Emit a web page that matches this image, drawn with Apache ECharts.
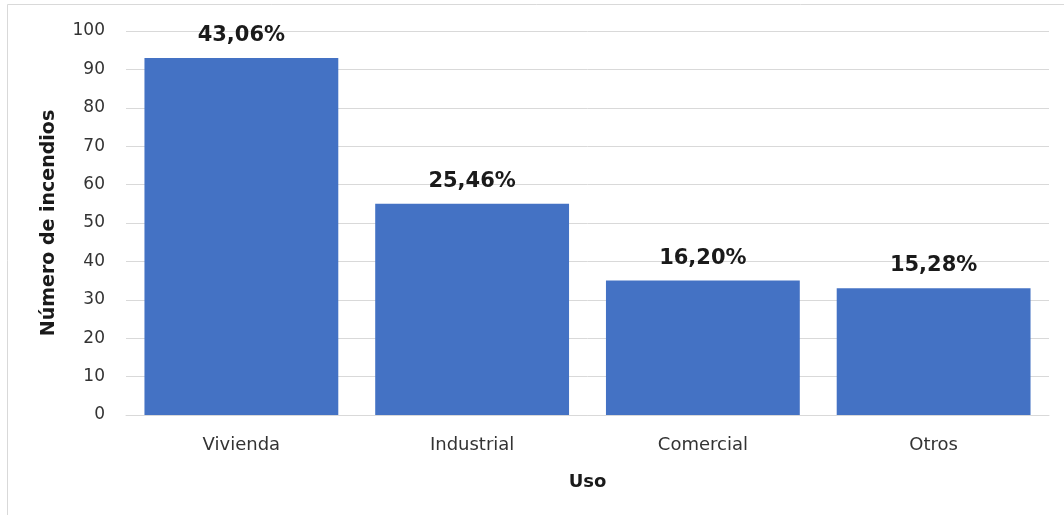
<!DOCTYPE html>
<html><head><meta charset="utf-8">
<script src="https://cdn.jsdelivr.net/npm/echarts@6/dist/echarts.min.js"></script>
<style>html,body{margin:0;padding:0;background:#fff}#c{width:1064px;height:515px}</style>
</head><body><div id="c"></div>
<script>
const categories = ['Vivienda', 'Industrial', 'Comercial', 'Otros'];
const counts = [93, 55, 35, 33];
const percentLabels = ['43,06%', '25,46%', '16,20%', '15,28%'];
const yTicks = [0, 10, 20, 30, 40, 50, 60, 70, 80, 90, 100];

const chart = echarts.init(document.getElementById('c'), null, {renderer: 'canvas'});
const FONT = 'DejaVu Sans';
chart.setOption({
  animation: false,
  backgroundColor: '#fff',
  graphic: [{
    type: 'rect', silent: true,
    shape: {x: 7.5, y: 4.5, width: 1200, height: 700},
    style: {fill: 'none', stroke: '#d9d9d9', lineWidth: 1}
  }],
  grid: {left: 126, right: 15, top: 31, bottom: 100, containLabel: false},
  xAxis: {
    type: 'category', data: categories,
    name: 'Uso', nameLocation: 'middle', nameGap: 58,
    nameTextStyle: {fontFamily: FONT, fontWeight: 'bold', fontSize: 18, color: '#1a1a1a'},
    axisLine: {lineStyle: {color: '#d9d9d9', width: 1}},
    axisTick: {show: false},
    axisLabel: {fontFamily: FONT, fontSize: 18, color: '#333', margin: 21}
  },
  yAxis: {
    type: 'value', min: yTicks[0], max: yTicks[yTicks.length - 1], interval: 10,
    name: 'Número de incendios', nameLocation: 'middle', nameGap: 67, nameRotate: 90,
    nameTextStyle: {fontFamily: FONT, fontWeight: 'bold', fontSize: 19, color: '#1a1a1a'},
    axisLine: {show: false}, axisTick: {show: false},
    axisLabel: {fontFamily: FONT, fontSize: 17, color: '#333', margin: 21},
    splitLine: {lineStyle: {color: '#d9d9d9', width: 1}}
  },
  series: [{
    type: 'bar', data: counts,
    barCategoryGap: '16%',
    itemStyle: {color: '#4472C4'},
    label: {
      show: true, position: 'top', distance: 12,
      formatter: p => percentLabels[p.dataIndex],
      fontFamily: FONT, fontWeight: 'bold', fontSize: 21, color: '#1a1a1a'
    }
  }]
});
</script></body></html>
